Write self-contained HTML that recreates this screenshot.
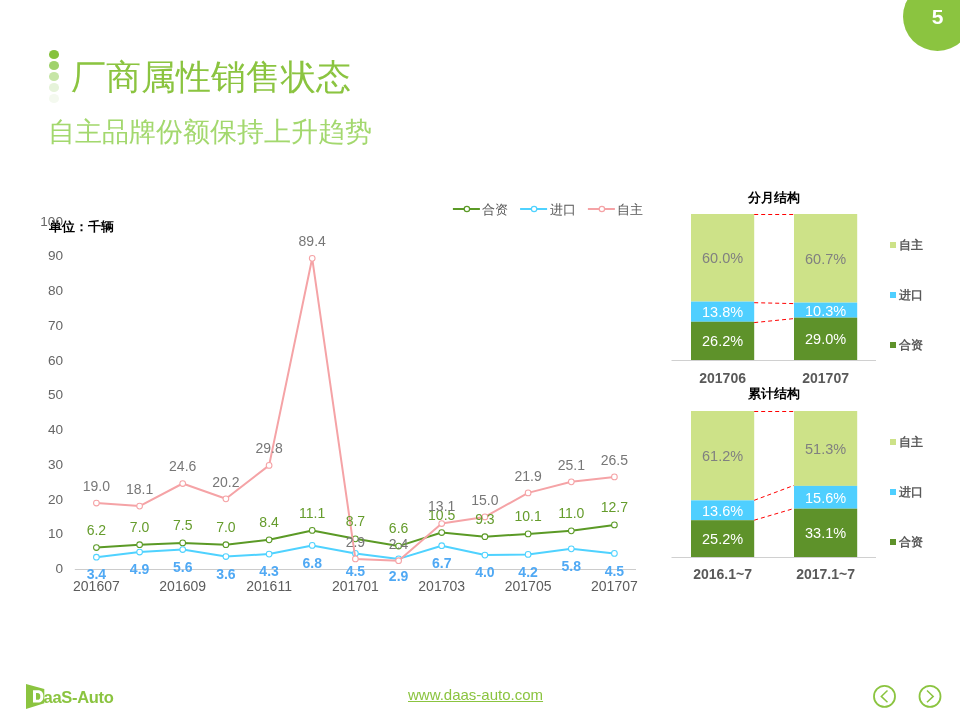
<!DOCTYPE html>
<html><head><meta charset="utf-8">
<style>
html,body{margin:0;padding:0;}
body{width:960px;height:720px;position:relative;overflow:hidden;background:#fff;font-family:"Liberation Sans",sans-serif;}
.abs,.dot{will-change:transform;}
.abs{position:absolute;}
#pg{left:903px;top:-18.5px;width:69px;height:69px;border-radius:50%;background:#8bc440;}
#pgn{left:925px;top:4.5px;width:25px;text-align:center;color:#fff;font-weight:bold;font-size:21px;line-height:23px;}
.dot{position:absolute;left:48.8px;width:10.4px;height:9px;border-radius:50%;}
#title{left:70.5px;top:54.5px;font-size:35px;line-height:44px;color:#8bc440;white-space:nowrap;}
#sub{left:48px;top:114.7px;font-size:26.67px;line-height:34px;color:#a3d86e;white-space:nowrap;}
#url{left:408px;top:685.5px;font-size:15px;line-height:18px;color:#8bc440;text-decoration:underline;white-space:nowrap;}
svg text{font-family:"Liberation Sans",sans-serif;}
</style></head><body>
<div class="abs" id="pg"></div>
<div class="abs" id="pgn">5</div>
<div class="dot" style="top:50px;background:#86c23d"></div>
<div class="dot" style="top:61px;background:#a0d26c"></div>
<div class="dot" style="top:72px;background:#c6e5a6"></div>
<div class="dot" style="top:83.1px;background:#e6f3da"></div>
<div class="dot" style="top:94.2px;background:#f4f9ef"></div>
<div class="abs" id="title">厂商属性销售状态</div>
<div class="abs" id="sub">自主品牌份额保持上升趋势</div>
<svg class="abs" style="left:0;top:0" width="960" height="720" viewBox="0 0 960 720">
<line x1="74.8" y1="569.5" x2="636.01" y2="569.5" stroke="#cccccc" stroke-width="1"/>
<text x="49" y="231" font-size="13" font-weight="bold" fill="#000">单位：千辆</text>
<text x="63" y="573.1" text-anchor="end" font-size="13.6" fill="#666">0</text>
<text x="63" y="538.4" text-anchor="end" font-size="13.6" fill="#666">10</text>
<text x="63" y="503.6" text-anchor="end" font-size="13.6" fill="#666">20</text>
<text x="63" y="468.9" text-anchor="end" font-size="13.6" fill="#666">30</text>
<text x="63" y="434.1" text-anchor="end" font-size="13.6" fill="#666">40</text>
<text x="63" y="399.4" text-anchor="end" font-size="13.6" fill="#666">50</text>
<text x="63" y="364.6" text-anchor="end" font-size="13.6" fill="#666">60</text>
<text x="63" y="329.9" text-anchor="end" font-size="13.6" fill="#666">70</text>
<text x="63" y="295.1" text-anchor="end" font-size="13.6" fill="#666">80</text>
<text x="63" y="260.4" text-anchor="end" font-size="13.6" fill="#666">90</text>
<text x="63" y="225.6" text-anchor="end" font-size="13.6" fill="#666">100</text>
<text x="96.4" y="591" text-anchor="middle" font-size="14" fill="#5c5c5c">201607</text>
<text x="182.7" y="591" text-anchor="middle" font-size="14" fill="#5c5c5c">201609</text>
<text x="269.1" y="591" text-anchor="middle" font-size="14" fill="#5c5c5c">201611</text>
<text x="355.4" y="591" text-anchor="middle" font-size="14" fill="#5c5c5c">201701</text>
<text x="441.7" y="591" text-anchor="middle" font-size="14" fill="#5c5c5c">201703</text>
<text x="528.1" y="591" text-anchor="middle" font-size="14" fill="#5c5c5c">201705</text>
<text x="614.4" y="591" text-anchor="middle" font-size="14" fill="#5c5c5c">201707</text>
<polyline points="96.4,547.5 139.6,544.7 182.7,542.9 225.9,544.7 269.1,539.8 312.2,530.4 355.4,538.8 398.6,546.1 441.7,532.5 484.9,536.7 528.1,533.9 571.3,530.8 614.4,524.9" fill="none" stroke="#5b9a26" stroke-width="2" stroke-linejoin="round"/>
<circle cx="96.4" cy="547.5" r="2.85" fill="#fff" stroke="#5b9a26" stroke-width="1.05"/>
<circle cx="139.6" cy="544.7" r="2.85" fill="#fff" stroke="#5b9a26" stroke-width="1.05"/>
<circle cx="182.7" cy="542.9" r="2.85" fill="#fff" stroke="#5b9a26" stroke-width="1.05"/>
<circle cx="225.9" cy="544.7" r="2.85" fill="#fff" stroke="#5b9a26" stroke-width="1.05"/>
<circle cx="269.1" cy="539.8" r="2.85" fill="#fff" stroke="#5b9a26" stroke-width="1.05"/>
<circle cx="312.2" cy="530.4" r="2.85" fill="#fff" stroke="#5b9a26" stroke-width="1.05"/>
<circle cx="355.4" cy="538.8" r="2.85" fill="#fff" stroke="#5b9a26" stroke-width="1.05"/>
<circle cx="398.6" cy="546.1" r="2.85" fill="#fff" stroke="#5b9a26" stroke-width="1.05"/>
<circle cx="441.7" cy="532.5" r="2.85" fill="#fff" stroke="#5b9a26" stroke-width="1.05"/>
<circle cx="484.9" cy="536.7" r="2.85" fill="#fff" stroke="#5b9a26" stroke-width="1.05"/>
<circle cx="528.1" cy="533.9" r="2.85" fill="#fff" stroke="#5b9a26" stroke-width="1.05"/>
<circle cx="571.3" cy="530.8" r="2.85" fill="#fff" stroke="#5b9a26" stroke-width="1.05"/>
<circle cx="614.4" cy="524.9" r="2.85" fill="#fff" stroke="#5b9a26" stroke-width="1.05"/>
<polyline points="96.4,557.2 139.6,552.0 182.7,549.5 225.9,556.5 269.1,554.1 312.2,545.4 355.4,553.4 398.6,558.9 441.7,545.7 484.9,555.1 528.1,554.4 571.3,548.8 614.4,553.4" fill="none" stroke="#4fd2ff" stroke-width="2" stroke-linejoin="round"/>
<circle cx="96.4" cy="557.2" r="2.85" fill="#fff" stroke="#4fd2ff" stroke-width="1.05"/>
<circle cx="139.6" cy="552.0" r="2.85" fill="#fff" stroke="#4fd2ff" stroke-width="1.05"/>
<circle cx="182.7" cy="549.5" r="2.85" fill="#fff" stroke="#4fd2ff" stroke-width="1.05"/>
<circle cx="225.9" cy="556.5" r="2.85" fill="#fff" stroke="#4fd2ff" stroke-width="1.05"/>
<circle cx="269.1" cy="554.1" r="2.85" fill="#fff" stroke="#4fd2ff" stroke-width="1.05"/>
<circle cx="312.2" cy="545.4" r="2.85" fill="#fff" stroke="#4fd2ff" stroke-width="1.05"/>
<circle cx="355.4" cy="553.4" r="2.85" fill="#fff" stroke="#4fd2ff" stroke-width="1.05"/>
<circle cx="398.6" cy="558.9" r="2.85" fill="#fff" stroke="#4fd2ff" stroke-width="1.05"/>
<circle cx="441.7" cy="545.7" r="2.85" fill="#fff" stroke="#4fd2ff" stroke-width="1.05"/>
<circle cx="484.9" cy="555.1" r="2.85" fill="#fff" stroke="#4fd2ff" stroke-width="1.05"/>
<circle cx="528.1" cy="554.4" r="2.85" fill="#fff" stroke="#4fd2ff" stroke-width="1.05"/>
<circle cx="571.3" cy="548.8" r="2.85" fill="#fff" stroke="#4fd2ff" stroke-width="1.05"/>
<circle cx="614.4" cy="553.4" r="2.85" fill="#fff" stroke="#4fd2ff" stroke-width="1.05"/>
<polyline points="96.4,503.0 139.6,506.1 182.7,483.5 225.9,498.8 269.1,465.4 312.2,258.3 355.4,558.9 398.6,560.7 441.7,523.5 484.9,516.9 528.1,492.9 571.3,481.8 614.4,476.9" fill="none" stroke="#f5a3a6" stroke-width="2" stroke-linejoin="round"/>
<circle cx="96.4" cy="503.0" r="2.85" fill="#fff" stroke="#f5a3a6" stroke-width="1.05"/>
<circle cx="139.6" cy="506.1" r="2.85" fill="#fff" stroke="#f5a3a6" stroke-width="1.05"/>
<circle cx="182.7" cy="483.5" r="2.85" fill="#fff" stroke="#f5a3a6" stroke-width="1.05"/>
<circle cx="225.9" cy="498.8" r="2.85" fill="#fff" stroke="#f5a3a6" stroke-width="1.05"/>
<circle cx="269.1" cy="465.4" r="2.85" fill="#fff" stroke="#f5a3a6" stroke-width="1.05"/>
<circle cx="312.2" cy="258.3" r="2.85" fill="#fff" stroke="#f5a3a6" stroke-width="1.05"/>
<circle cx="355.4" cy="558.9" r="2.85" fill="#fff" stroke="#f5a3a6" stroke-width="1.05"/>
<circle cx="398.6" cy="560.7" r="2.85" fill="#fff" stroke="#f5a3a6" stroke-width="1.05"/>
<circle cx="441.7" cy="523.5" r="2.85" fill="#fff" stroke="#f5a3a6" stroke-width="1.05"/>
<circle cx="484.9" cy="516.9" r="2.85" fill="#fff" stroke="#f5a3a6" stroke-width="1.05"/>
<circle cx="528.1" cy="492.9" r="2.85" fill="#fff" stroke="#f5a3a6" stroke-width="1.05"/>
<circle cx="571.3" cy="481.8" r="2.85" fill="#fff" stroke="#f5a3a6" stroke-width="1.05"/>
<circle cx="614.4" cy="476.9" r="2.85" fill="#fff" stroke="#f5a3a6" stroke-width="1.05"/>
<text x="96.4" y="534.8" text-anchor="middle" font-size="14" fill="#659c2c">6.2</text>
<text x="139.6" y="532.0" text-anchor="middle" font-size="14" fill="#659c2c">7.0</text>
<text x="182.7" y="530.2" text-anchor="middle" font-size="14" fill="#659c2c">7.5</text>
<text x="225.9" y="532.0" text-anchor="middle" font-size="14" fill="#659c2c">7.0</text>
<text x="269.1" y="527.1" text-anchor="middle" font-size="14" fill="#659c2c">8.4</text>
<text x="312.2" y="517.7" text-anchor="middle" font-size="14" fill="#659c2c">11.1</text>
<text x="355.4" y="526.1" text-anchor="middle" font-size="14" fill="#659c2c">8.7</text>
<text x="398.6" y="533.4" text-anchor="middle" font-size="14" fill="#659c2c">6.6</text>
<text x="441.7" y="519.8" text-anchor="middle" font-size="14" fill="#659c2c">10.5</text>
<text x="484.9" y="524.0" text-anchor="middle" font-size="14" fill="#659c2c">9.3</text>
<text x="528.1" y="521.2" text-anchor="middle" font-size="14" fill="#659c2c">10.1</text>
<text x="571.3" y="518.1" text-anchor="middle" font-size="14" fill="#659c2c">11.0</text>
<text x="614.4" y="512.2" text-anchor="middle" font-size="14" fill="#659c2c">12.7</text>
<text x="96.4" y="579.4" text-anchor="middle" font-size="14" font-weight="bold" fill="#50a9f4">3.4</text>
<text x="139.6" y="574.2" text-anchor="middle" font-size="14" font-weight="bold" fill="#50a9f4">4.9</text>
<text x="182.7" y="571.7" text-anchor="middle" font-size="14" font-weight="bold" fill="#50a9f4">5.6</text>
<text x="225.9" y="578.7" text-anchor="middle" font-size="14" font-weight="bold" fill="#50a9f4">3.6</text>
<text x="269.1" y="576.3" text-anchor="middle" font-size="14" font-weight="bold" fill="#50a9f4">4.3</text>
<text x="312.2" y="567.6" text-anchor="middle" font-size="14" font-weight="bold" fill="#50a9f4">6.8</text>
<text x="355.4" y="575.6" text-anchor="middle" font-size="14" font-weight="bold" fill="#50a9f4">4.5</text>
<text x="398.6" y="581.1" text-anchor="middle" font-size="14" font-weight="bold" fill="#50a9f4">2.9</text>
<text x="441.7" y="567.9" text-anchor="middle" font-size="14" font-weight="bold" fill="#50a9f4">6.7</text>
<text x="484.9" y="577.3" text-anchor="middle" font-size="14" font-weight="bold" fill="#50a9f4">4.0</text>
<text x="528.1" y="576.6" text-anchor="middle" font-size="14" font-weight="bold" fill="#50a9f4">4.2</text>
<text x="571.3" y="571.0" text-anchor="middle" font-size="14" font-weight="bold" fill="#50a9f4">5.8</text>
<text x="614.4" y="575.6" text-anchor="middle" font-size="14" font-weight="bold" fill="#50a9f4">4.5</text>
<text x="96.4" y="490.9" text-anchor="middle" font-size="14" fill="#777777">19.0</text>
<text x="139.6" y="494.0" text-anchor="middle" font-size="14" fill="#777777">18.1</text>
<text x="182.7" y="471.4" text-anchor="middle" font-size="14" fill="#777777">24.6</text>
<text x="225.9" y="486.7" text-anchor="middle" font-size="14" fill="#777777">20.2</text>
<text x="269.1" y="453.3" text-anchor="middle" font-size="14" fill="#777777">29.8</text>
<text x="312.2" y="246.2" text-anchor="middle" font-size="14" fill="#777777">89.4</text>
<text x="355.4" y="546.8" text-anchor="middle" font-size="14" fill="#777777">2.9</text>
<text x="398.6" y="548.6" text-anchor="middle" font-size="14" fill="#777777">2.4</text>
<text x="441.7" y="511.4" text-anchor="middle" font-size="14" fill="#777777">13.1</text>
<text x="484.9" y="504.8" text-anchor="middle" font-size="14" fill="#777777">15.0</text>
<text x="528.1" y="480.8" text-anchor="middle" font-size="14" fill="#777777">21.9</text>
<text x="571.3" y="469.7" text-anchor="middle" font-size="14" fill="#777777">25.1</text>
<text x="614.4" y="464.8" text-anchor="middle" font-size="14" fill="#777777">26.5</text>
<line x1="452.9" y1="209" x2="479.9" y2="209" stroke="#5b9a26" stroke-width="2"/>
<circle cx="466.9" cy="209" r="2.7" fill="#fff" stroke="#5b9a26" stroke-width="1.2"/>
<text x="482.4" y="214" font-size="13" fill="#555">合资</text>
<line x1="520.1" y1="209" x2="547.1" y2="209" stroke="#4fd2ff" stroke-width="2"/>
<circle cx="534.1" cy="209" r="2.7" fill="#fff" stroke="#4fd2ff" stroke-width="1.2"/>
<text x="549.6" y="214" font-size="13" fill="#555">进口</text>
<line x1="587.9" y1="209" x2="614.9" y2="209" stroke="#f5a3a6" stroke-width="2"/>
<circle cx="601.9" cy="209" r="2.7" fill="#fff" stroke="#f5a3a6" stroke-width="1.2"/>
<text x="617.4" y="214" font-size="13" fill="#555">自主</text>
<text x="773.5" y="201.7" text-anchor="middle" font-size="13" font-weight="bold" fill="#000">分月结构</text>
<rect x="691" y="214" width="63.2" height="87.60" fill="#cde288"/>
<rect x="691" y="301.60" width="63.2" height="20.15" fill="#4fcfff"/>
<rect x="691" y="321.75" width="63.2" height="38.25" fill="#5e922a"/>
<text x="722.6" y="263.4" text-anchor="middle" font-size="14.5" fill="#808080">60.0%</text>
<text x="722.6" y="317.1" text-anchor="middle" font-size="14.5" fill="#fff">13.8%</text>
<text x="722.6" y="346.3" text-anchor="middle" font-size="14.5" fill="#fff">26.2%</text>
<rect x="794" y="214" width="63.2" height="88.62" fill="#cde288"/>
<rect x="794" y="302.62" width="63.2" height="15.04" fill="#4fcfff"/>
<rect x="794" y="317.66" width="63.2" height="42.34" fill="#5e922a"/>
<text x="825.6" y="263.9" text-anchor="middle" font-size="14.5" fill="#808080">60.7%</text>
<text x="825.6" y="315.5" text-anchor="middle" font-size="14.5" fill="#fff">10.3%</text>
<text x="825.6" y="344.2" text-anchor="middle" font-size="14.5" fill="#fff">29.0%</text>
<line x1="754.2" y1="214.5" x2="794" y2="214.5" stroke="#ff0000" stroke-width="1" stroke-dasharray="4,3"/>
<line x1="754.2" y1="302.7" x2="794" y2="303.6" stroke="#ff0000" stroke-width="1" stroke-dasharray="4,3"/>
<line x1="754.2" y1="322.6" x2="794" y2="318.6" stroke="#ff0000" stroke-width="1" stroke-dasharray="4,3"/>
<line x1="671.5" y1="360.5" x2="876" y2="360.5" stroke="#d0d0d0" stroke-width="1"/>
<text x="722.6" y="383" text-anchor="middle" font-size="14" font-weight="bold" fill="#595959">201706</text>
<text x="825.6" y="383" text-anchor="middle" font-size="14" font-weight="bold" fill="#595959">201707</text>
<rect x="890" y="242" width="6" height="6" fill="#cde288"/>
<text x="899" y="248.8" font-size="12" font-weight="bold" fill="#595959">自主</text>
<rect x="890" y="292" width="6" height="6" fill="#4fcfff"/>
<text x="899" y="298.8" font-size="12" font-weight="bold" fill="#595959">进口</text>
<rect x="890" y="342" width="6" height="6" fill="#5e922a"/>
<text x="899" y="348.8" font-size="12" font-weight="bold" fill="#595959">合资</text>
<text x="773.5" y="397.5" text-anchor="middle" font-size="13" font-weight="bold" fill="#000">累计结构</text>
<rect x="691" y="411" width="63.2" height="89.35" fill="#cde288"/>
<rect x="691" y="500.35" width="63.2" height="19.86" fill="#4fcfff"/>
<rect x="691" y="520.21" width="63.2" height="36.79" fill="#5e922a"/>
<text x="722.6" y="461.3" text-anchor="middle" font-size="14.5" fill="#808080">61.2%</text>
<text x="722.6" y="515.7" text-anchor="middle" font-size="14.5" fill="#fff">13.6%</text>
<text x="722.6" y="544.0" text-anchor="middle" font-size="14.5" fill="#fff">25.2%</text>
<rect x="794" y="411" width="63.2" height="74.90" fill="#cde288"/>
<rect x="794" y="485.90" width="63.2" height="22.78" fill="#4fcfff"/>
<rect x="794" y="508.67" width="63.2" height="48.33" fill="#5e922a"/>
<text x="825.6" y="454.0" text-anchor="middle" font-size="14.5" fill="#808080">51.3%</text>
<text x="825.6" y="502.7" text-anchor="middle" font-size="14.5" fill="#fff">15.6%</text>
<text x="825.6" y="538.2" text-anchor="middle" font-size="14.5" fill="#fff">33.1%</text>
<line x1="754.2" y1="411.5" x2="794" y2="411.5" stroke="#ff0000" stroke-width="1" stroke-dasharray="4,3"/>
<line x1="754.2" y1="500.3" x2="794" y2="485.4" stroke="#ff0000" stroke-width="1" stroke-dasharray="4,3"/>
<line x1="754.2" y1="520.2" x2="794" y2="508.5" stroke="#ff0000" stroke-width="1" stroke-dasharray="4,3"/>
<line x1="671.5" y1="557.5" x2="876" y2="557.5" stroke="#d0d0d0" stroke-width="1"/>
<text x="722.6" y="578.8" text-anchor="middle" font-size="14" font-weight="bold" fill="#595959">2016.1~7</text>
<text x="825.6" y="578.8" text-anchor="middle" font-size="14" font-weight="bold" fill="#595959">2017.1~7</text>
<rect x="890" y="439" width="6" height="6" fill="#cde288"/>
<text x="899" y="445.8" font-size="12" font-weight="bold" fill="#595959">自主</text>
<rect x="890" y="489" width="6" height="6" fill="#4fcfff"/>
<text x="899" y="495.8" font-size="12" font-weight="bold" fill="#595959">进口</text>
<rect x="890" y="539" width="6" height="6" fill="#5e922a"/>
<text x="899" y="545.8" font-size="12" font-weight="bold" fill="#595959">合资</text>
<!-- logo -->
<path d="M26,684 L44.3,689.1 L44.3,703.3 L26,708.9 Z" fill="#8bc440"/>
<path d="M33,690.3 L37.5,690.3 C42,690.3 43.4,693 43.4,696.4 C43.4,699.8 42,702.5 37.5,702.5 L33,702.5 Z M36,693 L36,699.8 L37.3,699.8 C39.6,699.8 40.3,698.5 40.3,696.4 C40.3,694.3 39.6,693 37.3,693 Z" fill="#fff" fill-rule="evenodd"/>
<text x="43.5" y="702.5" font-size="16.5" font-weight="bold" fill="#8bc440" letter-spacing="-0.3">aaS-Auto</text>
<!-- nav -->
<circle cx="884.5" cy="696.4" r="10.5" fill="none" stroke="#8bc440" stroke-width="1.8"/>
<path d="M887.5,690.5 L881.3,696.4 L887.5,702.3" fill="none" stroke="#8bc440" stroke-width="1.5"/>
<circle cx="930" cy="696.4" r="10.5" fill="none" stroke="#8bc440" stroke-width="1.8"/>
<path d="M927,690.5 L933.2,696.4 L927,702.3" fill="none" stroke="#8bc440" stroke-width="1.5"/>
</svg>
<div class="abs" id="url">www.daas-auto.com</div>
</body></html>
